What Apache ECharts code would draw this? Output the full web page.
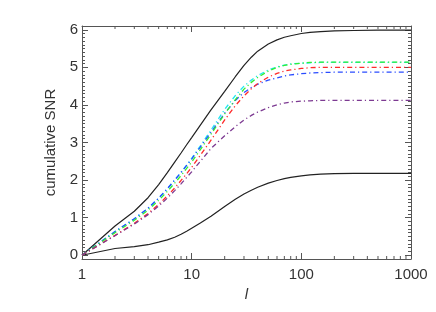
<!DOCTYPE html>
<html>
<head>
<meta charset="utf-8">
<script src="https://cdn.jsdelivr.net/npm/echarts@6/dist/echarts.min.js"></script>
<style>
html,body{margin:0;padding:0;background:#fff;}
#chart{width:436px;height:312px;}
</style>
</head>
<body>
<div id="chart"></div>
<script>
// multipole l values
var ells = [1, 2, 3, 4, 5, 6, 7, 8, 9, 10, 12, 15, 20, 25, 30, 35, 40, 50, 60, 70, 80, 100, 120, 150, 200, 300, 500, 1000];
// cumulative SNR curves
var blackUpper = [0, 0.78, 1.17, 1.53, 1.88, 2.2, 2.48, 2.72, 2.94, 3.13, 3.46, 3.87, 4.36, 4.75, 5.05, 5.27, 5.43, 5.62, 5.73, 5.8, 5.84, 5.9, 5.93, 5.95, 5.97, 5.98, 5.99, 5.99];
var blackLower = [0, 0.18, 0.23, 0.28, 0.35, 0.41, 0.48, 0.56, 0.64, 0.72, 0.86, 1.04, 1.3, 1.49, 1.63, 1.73, 1.81, 1.92, 1.99, 2.04, 2.07, 2.11, 2.14, 2.16, 2.17, 2.18, 2.18, 2.18];
var cyanVals   = [0, 0.63, 0.97, 1.25, 1.52, 1.77, 2.0, 2.21, 2.4, 2.58, 2.91, 3.33, 3.88, 4.25, 4.5, 4.66, 4.78, 4.93, 5.01, 5.06, 5.09, 5.11, 5.12, 5.13, 5.13, 5.13, 5.13, 5.13];
var blueVals   = [0, 0.63, 0.97, 1.25, 1.52, 1.77, 2.0, 2.2, 2.39, 2.56, 2.88, 3.27, 3.78, 4.12, 4.33, 4.46, 4.55, 4.66, 4.72, 4.77, 4.8, 4.83, 4.85, 4.86, 4.87, 4.87, 4.87, 4.87];
var greenVals  = [0, 0.6, 0.93, 1.2, 1.46, 1.7, 1.92, 2.12, 2.31, 2.48, 2.81, 3.22, 3.76, 4.14, 4.42, 4.6, 4.73, 4.9, 5.0, 5.05, 5.08, 5.11, 5.13, 5.14, 5.14, 5.14, 5.14, 5.14];
var redVals    = [0, 0.53, 0.85, 1.11, 1.35, 1.58, 1.79, 1.99, 2.17, 2.34, 2.66, 3.06, 3.6, 3.98, 4.24, 4.43, 4.57, 4.74, 4.84, 4.9, 4.93, 4.97, 4.99, 5.0, 5.0, 5.0, 5.0, 5.0];
var purpleVals = [0, 0.52, 0.83, 1.08, 1.31, 1.52, 1.72, 1.9, 2.07, 2.22, 2.5, 2.84, 3.18, 3.42, 3.6, 3.72, 3.81, 3.93, 4.0, 4.05, 4.08, 4.1, 4.11, 4.12, 4.12, 4.12, 4.12, 4.12];
// axis tick values
var xMinorTicks = [2, 3, 4, 5, 6, 7, 8, 9, 20, 30, 40, 50, 60, 70, 80, 90, 200, 300, 400, 500, 600, 700, 800, 900];
var xMin = 1, xMax = 1000, yMin = -0.1, yMax = 6.1;

function pairs(vals) {
  return ells.map(function (l, i) { return [l, vals[i]]; });
}
var axisColor = '#555';
var textColor = '#333';
var font = 'Liberation Sans';
var dashDot = [5, 3, 1.2, 3];

function lineSeries(vals, color, dashed) {
  return {
    type: 'line', data: pairs(vals), showSymbol: false, smooth: false,
    xAxisIndex: 0, yAxisIndex: 0,
    lineStyle: { color: color, width: dashed ? 1.3 : 1.2, type: dashed ? dashDot : 'solid' },
    animation: false, silent: true
  };
}
function axisLineStyle() {
  return { show: true, onZero: false, lineStyle: { color: axisColor, width: 1 } };
}

var chart = echarts.init(document.getElementById('chart'), null, { renderer: 'canvas' });
chart.setOption({
  backgroundColor: '#fff',
  animation: false,
  grid: { left: 82, right: 25, top: 26, bottom: 53 },
  xAxis: [{
    type: 'log', logBase: 10, min: xMin, max: xMax, position: 'bottom',
    name: 'l', nameLocation: 'middle', nameGap: 24,
    nameTextStyle: { fontFamily: font, fontSize: 15, fontStyle: 'italic', color: textColor },
    axisLine: axisLineStyle(),
    axisTick: { show: true, inside: true, length: 6, lineStyle: { color: axisColor } },
    axisLabel: { color: textColor, fontFamily: font, fontSize: 15, margin: 8,
      formatter: function (v) { return String(Math.round(v)); } },
    splitLine: { show: false }
  }, {
    type: 'log', logBase: 10, min: xMin, max: xMax, position: 'top',
    axisLine: axisLineStyle(),
    axisTick: { show: true, inside: true, length: 6, lineStyle: { color: axisColor } },
    axisLabel: { show: false }, splitLine: { show: false }
  }],
  yAxis: [{
    type: 'value', min: yMin, max: yMax, position: 'left',
    name: 'cumulative SNR', nameLocation: 'middle', nameGap: 22, nameRotate: 90,
    nameTextStyle: { fontFamily: font, fontSize: 15, color: textColor },
    axisLine: axisLineStyle(),
    axisTick: { show: true, inside: true, length: 6, lineStyle: { color: axisColor } },
    minorTick: { show: true, splitNumber: 10, length: 3, lineStyle: { color: axisColor } },
    axisLabel: { color: textColor, fontFamily: font, fontSize: 15, margin: 4, showMinLabel: false, showMaxLabel: false,
      formatter: function (v) { return Math.abs(v - Math.round(v)) < 1e-6 ? String(Math.round(v)) : ''; } },
    splitLine: { show: false }
  }, {
    type: 'value', min: yMin, max: yMax, position: 'right',
    axisLine: axisLineStyle(),
    axisTick: { show: true, inside: true, length: 6, lineStyle: { color: axisColor } },
    minorTick: { show: true, splitNumber: 10, length: 3, lineStyle: { color: axisColor } },
    axisLabel: { show: false }, splitLine: { show: false }
  }],
  series: [
    {
      type: 'custom', xAxisIndex: 0, yAxisIndex: 0, clip: false, silent: true, animation: false,
      data: xMinorTicks.map(function (v) { return [v]; }),
      renderItem: function (params, api) {
        var l = api.value(0);
        var pb = api.coord([l, yMin]);
        var pt = api.coord([l, yMax]);
        var st = { stroke: axisColor, lineWidth: 1 };
        return { type: 'group', children: [
          { type: 'line', shape: { x1: pb[0], y1: pb[1], x2: pb[0], y2: pb[1] - 3 }, style: st },
          { type: 'line', shape: { x1: pt[0], y1: pt[1], x2: pt[0], y2: pt[1] + 3 }, style: st }
        ] };
      }
    },
    lineSeries(blackUpper, '#222', false),
    lineSeries(blackLower, '#222', false),
    lineSeries(cyanVals, '#22e8f0', true),
    lineSeries(blueVals, '#2a4cff', true),
    lineSeries(greenVals, '#33ee33', true),
    lineSeries(redVals, '#ff2a2a', true),
    lineSeries(purpleVals, '#7d3a92', true)
  ]
});
</script>
</body>
</html>
